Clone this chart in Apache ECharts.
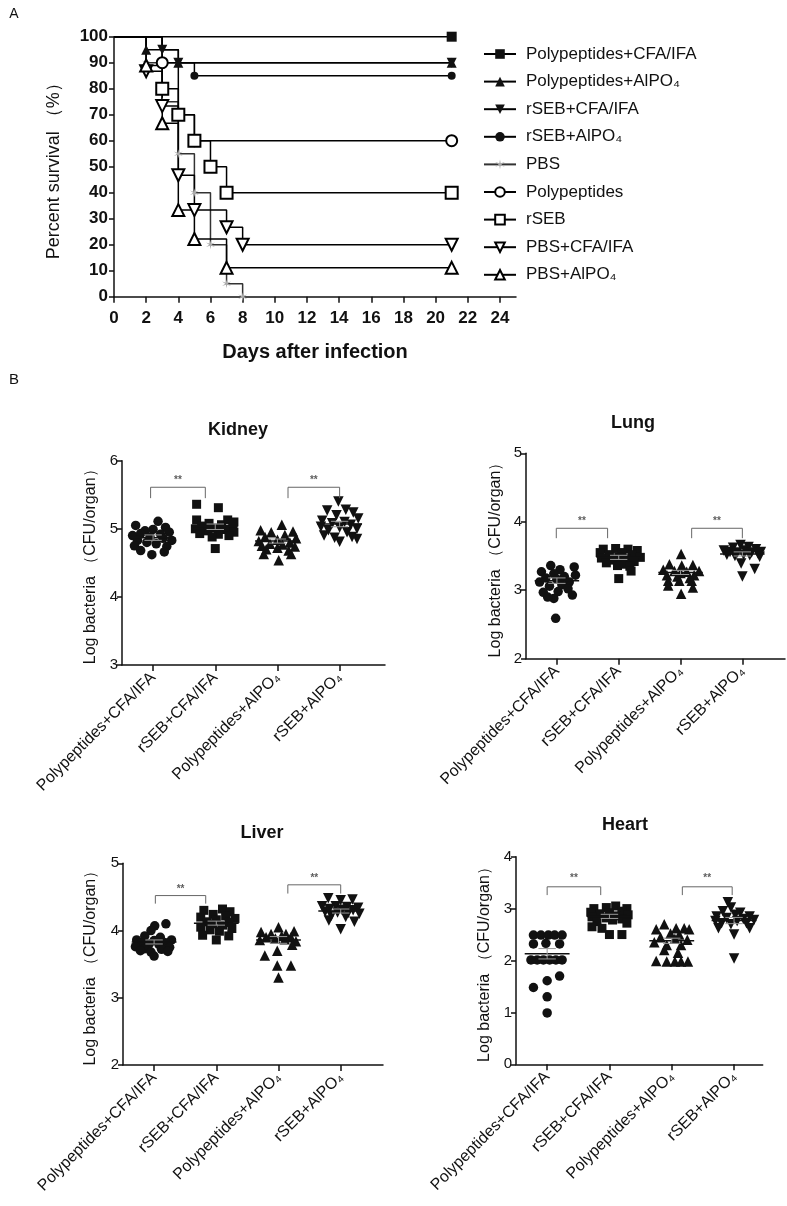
<!DOCTYPE html>
<html><head><meta charset="utf-8">
<script src="https://cdn.jsdelivr.net/npm/echarts@6/dist/echarts.min.js"></script>
<style>html,body{margin:0;padding:0;background:#fff}#c{width:787px;height:1206px}</style>
</head><body><div id="c"></div>
<script>
const FONT = 'Arial, "Liberation Sans", Helvetica, sans-serif';

// ---------- Panel A: survival ----------
const survNames = ['Polypeptides+CFA/IFA','Polypeptides+AlPO₄','rSEB+CFA/IFA','rSEB+AlPO₄','PBS','Polypeptides','rSEB','PBS+CFA/IFA','PBS+AlPO₄'];
const days_PolyCFA = [0,21];               const pct_PolyCFA = [100,100];
const days_PolyAl  = [0,2,4,21];           const pct_PolyAl  = [100,95,90,90];
const days_rSEBCFA = [0,3,4,21];           const pct_rSEBCFA = [100,95,90,90];
const days_rSEBAl  = [0,3,5,21];           const pct_rSEBAl  = [100,90,85,85];
const days_PBS     = [0,2,3,4,5,6,7,8];    const pct_PBS     = [100,90,75,55,40,20,5,0];
const days_Poly    = [0,3,4,5,21];         const pct_Poly    = [100,90,70,60,60];
const days_rSEB    = [0,3,4,5,6,7,21];     const pct_rSEB    = [100,80,70,60,50,40,40];
const days_PBSCFA  = [0,2,3,4,5,7,8,21];   const pct_PBSCFA  = [100,86.7,73.3,46.7,33.3,26.7,20,20];
const days_PBSAl   = [0,2,3,4,5,7,21];     const pct_PBSAl   = [100,88.9,66.7,33.3,22.2,11.1,11.1];
const xTicksA = [0,2,4,6,8,10,12,14,16,18,20,22,24];

// ---------- Panel B: organ bacterial loads ----------
const organCategories = ['Polypeptides+CFA/IFA','rSEB+CFA/IFA','Polypeptides+AlPO₄','rSEB+AlPO₄'];
const catTicks = [1,2,3,4];
// each point: [horizontal jitter in category units, log CFU]
const kidney_PolyCFA = [[-0.28,5.05],[0.08,5.11],[0.20,5.02],[0.0,4.99],[-0.13,4.97],[-0.33,4.90],[-0.20,4.93],[0.26,4.95],[0.12,4.92],[-0.05,4.88],[0.16,4.86],[-0.25,4.83],[0.30,4.83],[-0.10,4.80],[0.05,4.78],[-0.30,4.75],[0.22,4.74],[-0.20,4.68],[0.18,4.66],[-0.02,4.62]];
const kidney_rSEBCFA = [[-0.30,5.36],[0.05,5.31],[-0.30,5.13],[0.20,5.13],[0.30,5.10],[-0.10,5.08],[0.10,5.06],[-0.22,5.04],[0.28,5.02],[0.0,5.01],[-0.32,5.00],[0.15,4.99],[-0.12,4.97],[0.30,4.95],[-0.25,4.93],[0.05,4.92],[0.22,4.90],[-0.05,4.88],[0.00,4.71]];
const kidney_PolyAl = [[0.07,5.06],[-0.27,4.98],[0.25,4.96],[-0.10,4.95],[0.12,4.91],[-0.20,4.88],[0.30,4.86],[0.00,4.84],[-0.30,4.82],[0.20,4.80],[-0.12,4.78],[0.08,4.77],[-0.25,4.75],[0.28,4.74],[0.00,4.72],[-0.18,4.70],[0.18,4.68],[-0.22,4.63],[0.22,4.63],[0.02,4.54]];
const kidney_rSEBAl = [[-0.02,5.40],[-0.20,5.27],[0.10,5.28],[0.22,5.24],[-0.05,5.20],[0.30,5.15],[-0.28,5.12],[0.08,5.10],[-0.12,5.08],[0.18,5.06],[-0.30,5.03],[0.00,5.02],[0.28,5.00],[-0.18,4.98],[0.12,4.95],[-0.25,4.90],[0.20,4.88],[-0.08,4.87],[0.28,4.85],[0.00,4.81]];
const kidney_means = [4.87,5.03,4.82,5.07];
const kidney_sems  = [0.04,0.04,0.03,0.04];

const lung_PolyCFA = [[-0.10,3.36],[0.28,3.34],[-0.25,3.27],[0.05,3.30],[0.30,3.22],[-0.05,3.24],[0.12,3.20],[-0.18,3.18],[0.0,3.16],[0.20,3.12],[-0.28,3.12],[0.08,3.08],[-0.12,3.06],[0.18,3.02],[-0.22,2.97],[0.25,2.93],[0.02,2.98],[-0.05,2.88],[-0.15,2.90],[-0.02,2.59]];
const lung_rSEBCFA = [[-0.25,3.60],[-0.05,3.61],[0.15,3.60],[0.30,3.58],[-0.30,3.55],[0.05,3.55],[-0.15,3.52],[0.22,3.52],[0.35,3.48],[-0.28,3.47],[0.0,3.48],[0.12,3.46],[-0.10,3.44],[0.25,3.42],[-0.20,3.40],[0.05,3.38],[-0.02,3.36],[0.18,3.35],[0.20,3.28],[0.0,3.17]];
const lung_PolyAl = [[0.01,3.53],[-0.18,3.38],[0.02,3.36],[0.20,3.37],[-0.28,3.30],[0.30,3.28],[-0.10,3.28],[0.10,3.27],[0.00,3.25],[-0.22,3.22],[0.22,3.22],[-0.05,3.20],[0.15,3.18],[-0.20,3.14],[-0.02,3.14],[0.18,3.14],[-0.20,3.07],[0.20,3.04],[0.01,2.95]];
const lung_rSEBAl = [[-0.03,3.66],[0.10,3.63],[-0.15,3.62],[0.22,3.60],[-0.30,3.58],[0.05,3.58],[0.30,3.56],[-0.20,3.56],[0.15,3.55],[-0.08,3.55],[0.25,3.54],[-0.25,3.52],[0.02,3.52],[0.12,3.51],[-0.12,3.50],[0.28,3.49],[-0.02,3.39],[0.20,3.31],[0.0,3.20]];
const lung_means = [3.14,3.48,3.26,3.53];
const lung_sems  = [0.04,0.03,0.03,0.03];

const liver_PolyCFA = [[0.01,4.07],[0.19,4.10],[-0.05,4.00],[-0.15,3.92],[0.10,3.90],[-0.28,3.86],[0.28,3.86],[0.0,3.85],[-0.20,3.82],[0.18,3.82],[-0.08,3.80],[0.08,3.79],[-0.30,3.76],[0.25,3.75],[-0.15,3.73],[0.12,3.72],[-0.22,3.70],[0.22,3.69],[-0.05,3.68],[0.0,3.62]];
const liver_rSEBCFA = [[-0.20,4.30],[0.10,4.32],[0.22,4.28],[-0.05,4.24],[0.15,4.22],[-0.25,4.20],[0.30,4.18],[0.0,4.16],[-0.15,4.13],[0.20,4.12],[-0.05,4.10],[0.10,4.08],[-0.25,4.05],[0.25,4.03],[-0.10,4.01],[0.05,3.99],[-0.22,3.93],[0.20,3.92],[0.0,3.86]];
const liver_PolyAl = [[0.00,4.05],[-0.28,3.98],[0.25,3.99],[-0.12,3.95],[0.12,3.95],[0.05,3.92],[-0.20,3.90],[0.20,3.90],[-0.05,3.88],[0.10,3.87],[-0.30,3.86],[0.28,3.84],[0.22,3.79],[-0.22,3.63],[-0.02,3.70],[-0.02,3.48],[0.20,3.48],[0.00,3.30]];
const liver_rSEBAl = [[-0.20,4.48],[0.00,4.45],[0.19,4.46],[-0.30,4.36],[-0.08,4.36],[0.10,4.35],[0.28,4.34],[-0.18,4.32],[0.02,4.31],[0.20,4.30],[-0.25,4.28],[-0.05,4.27],[0.12,4.26],[0.30,4.25],[-0.15,4.22],[0.08,4.20],[-0.19,4.15],[0.22,4.13],[0.00,4.02]];
const liver_means = [3.83,4.11,3.86,4.29];
const liver_sems  = [0.03,0.03,0.05,0.03];

const heart_PolyCFA = [[-0.22,2.49],[-0.10,2.49],[0.02,2.49],[0.12,2.49],[0.24,2.49],[-0.22,2.32],[-0.02,2.33],[0.20,2.32],[-0.26,2.01],[-0.16,2.01],[-0.06,2.01],[0.04,2.01],[0.14,2.01],[0.24,2.01],[0.20,1.70],[0.00,1.61],[-0.22,1.48],[0.00,1.30],[0.00,0.99]];
const heart_rSEBCFA = [[-0.25,3.00],[-0.05,3.02],[0.10,3.05],[0.28,3.00],[-0.30,2.93],[0.20,2.95],[0.0,2.92],[-0.15,2.90],[0.30,2.88],[0.10,2.86],[-0.28,2.84],[-0.05,2.82],[0.20,2.80],[0.05,2.78],[-0.20,2.75],[0.28,2.72],[-0.28,2.65],[-0.12,2.62],[0.0,2.50],[0.20,2.50]];
const heart_PolyAl = [[-0.12,2.70],[-0.25,2.60],[0.07,2.62],[0.20,2.62],[0.28,2.60],[-0.02,2.52],[0.12,2.50],[-0.18,2.45],[0.05,2.42],[0.25,2.40],[-0.28,2.35],[-0.08,2.30],[0.15,2.30],[-0.12,2.20],[0.10,2.15],[-0.25,1.99],[-0.08,1.98],[0.05,1.98],[0.15,1.98],[0.26,1.98]];
const heart_rSEBAl = [[-0.10,3.12],[-0.05,3.02],[-0.18,2.95],[0.10,2.92],[0.02,2.88],[-0.28,2.85],[0.25,2.85],[-0.12,2.82],[0.15,2.80],[0.32,2.78],[-0.30,2.76],[0.05,2.76],[-0.20,2.72],[0.20,2.72],[-0.05,2.70],[-0.25,2.62],[0.25,2.62],[0.00,2.50],[0.00,2.04]];
const heart_means = [2.13,2.85,2.38,2.77];
const heart_sems  = [0.10,0.04,0.05,0.06];

// significance brackets: [x1, x2, top, legBottom, starsY]
const kidney_brackets = [[0.96,1.84,5.61,5.45,5.72],[3.17,4.0,5.61,5.45,5.72]];
const lung_brackets   = [[0.99,1.82,3.905,3.76,4.01],[3.18,4.0,3.905,3.76,4.01]];
const liver_brackets  = [[1.02,1.83,4.52,4.40,4.62],[3.15,4.0,4.68,4.55,4.78]];
const heart_brackets  = [[1.0,1.86,3.42,3.26,3.58],[3.17,3.97,3.42,3.26,3.58]];

// ---------- symbols ----------
const TRI_UP = 'path://M5,0 L10,9 L0,9 Z';
const TRI_DN = 'path://M0,0 L10,0 L5,9 Z';
const STAR = 'path://M10 0 L11.25 7.83 L18.66 5 L12.5 10 L18.66 15 L11.25 12.17 L10 20 L8.75 12.17 L1.34 15 L7.5 10 L1.34 5 L8.75 7.83 Z';

function stepData(days, pct){
  return days.map((d,i)=> i===0 ? {value:[d,pct[i]], symbol:'none'} : [d,pct[i]]);
}
const filled = {color:'#111', borderColor:'#111', borderWidth:0};
const open = {color:'#fff', borderColor:'#000', borderWidth:2};
function survSeries(name, days, pct, symbol, size, item, lineColor){
  return {type:'line', name, xAxisIndex:0, yAxisIndex:0, step:'end', data:stepData(days,pct),
    symbol, symbolSize:size, showAllSymbol:true, itemStyle:item,
    lineStyle:{color:lineColor||'#000', width:1.5}, emphasis:{disabled:true}, z:3};
}

const series = [
  survSeries(survNames[0], days_PolyCFA, pct_PolyCFA, 'rect', 10, filled),
  survSeries(survNames[1], days_PolyAl, pct_PolyAl, TRI_UP, 10, filled),
  survSeries(survNames[2], days_rSEBCFA, pct_rSEBCFA, TRI_DN, 10, filled),
  survSeries(survNames[3], days_rSEBAl, pct_rSEBAl, 'circle', 8, filled),
  survSeries(survNames[4], days_PBS, pct_PBS, STAR, 9, {color:'#aaa'}, '#333'),
  survSeries(survNames[5], days_Poly, pct_Poly, 'circle', 11, open),
  survSeries(survNames[6], days_rSEB, pct_rSEB, 'rect', 12, open),
  survSeries(survNames[7], days_PBSCFA, pct_PBSCFA, TRI_DN, 12, open),
  survSeries(survNames[8], days_PBSAl, pct_PBSAl, TRI_UP, 12, open)
];

const organs = [
  {groups:[kidney_PolyCFA,kidney_rSEBCFA,kidney_PolyAl,kidney_rSEBAl], means:kidney_means, sems:kidney_sems, br:kidney_brackets},
  {groups:[lung_PolyCFA,lung_rSEBCFA,lung_PolyAl,lung_rSEBAl], means:lung_means, sems:lung_sems, br:lung_brackets},
  {groups:[liver_PolyCFA,liver_rSEBCFA,liver_PolyAl,liver_rSEBAl], means:liver_means, sems:liver_sems, br:liver_brackets},
  {groups:[heart_PolyCFA,heart_rSEBCFA,heart_PolyAl,heart_rSEBAl], means:heart_means, sems:heart_sems, br:heart_brackets}
];
const groupSymbols = [['circle',9.5],['rect',9],[TRI_UP,10.5],[TRI_DN,10.5]];

function meanRender(params, api){
  const x = api.value(0), m = api.value(1), s = api.value(2);
  const L = api.coord([x-0.36,m]), R = api.coord([x+0.36,m]);
  const T = api.coord([x,m+s]), B = api.coord([x,m-s]);
  const cw = 0.14;
  const TL = api.coord([x-cw,m+s]), TR = api.coord([x+cw,m+s]);
  const BL = api.coord([x-cw,m-s]), BR = api.coord([x+cw,m-s]);
  const g = {stroke:'#999', lineWidth:1};
  return {type:'group', children:[
    {type:'line', shape:{x1:L[0],y1:L[1],x2:R[0],y2:R[1]}, style:{stroke:'#111', lineWidth:1.5}},
    {type:'line', shape:{x1:T[0],y1:T[1],x2:B[0],y2:B[1]}, style:g},
    {type:'line', shape:{x1:TL[0],y1:TL[1],x2:TR[0],y2:TR[1]}, style:g},
    {type:'line', shape:{x1:BL[0],y1:BL[1],x2:BR[0],y2:BR[1]}, style:g}
  ]};
}

organs.forEach((o, k)=>{
  const ax = k+1;
  o.groups.forEach((pts, gi)=>{
    series.push({type:'scatter', xAxisIndex:ax, yAxisIndex:ax, symbol:groupSymbols[gi][0], symbolSize:groupSymbols[gi][1],
      itemStyle:{color:'#111', opacity:1}, data:pts.map(p=>[gi+1+p[0], p[1]]), emphasis:{disabled:true}, z:2});
  });
  series.push({type:'custom', xAxisIndex:ax, yAxisIndex:ax, renderItem:meanRender, z:4, silent:true,
    data:o.means.map((m,i)=>[i+1, m, o.sems[i]])});
  o.br.forEach(b=>{
    series.push({type:'line', xAxisIndex:ax, yAxisIndex:ax, symbol:'none', silent:true,
      lineStyle:{color:'#666', width:1}, data:[[b[0],b[3]],[b[0],b[2]],[b[1],b[2]],[b[1],b[3]]]});
    series.push({type:'scatter', xAxisIndex:ax, yAxisIndex:ax, symbolSize:1, silent:true,
      itemStyle:{color:'rgba(0,0,0,0)'}, data:[[(b[0]+b[1])/2, b[4]]],
      label:{show:true, position:'inside', formatter:'**', fontSize:10, fontWeight:'bold', color:'#333', fontFamily:FONT}});
  });
});

const axisLineStyle = {color:'#111', width:1.5};
const grids = [
  {left:114, top:36.7, width:402, height:260},
  {left:122, top:460.7, width:263, height:204.3},
  {left:526, top:453.3, width:259, height:205.4},
  {left:123, top:863.3, width:260, height:201.7},
  {left:516, top:856.7, width:246.7, height:207.6}
];
const xMax = [25, 4.73, 4.69, 4.68, 4.46];
const yRange = [[0,100,10],[3,6,1],[2,5,1],[2,5,1],[0,4,1]];
const yNameGap = [0, 23, 22, 24, 23];
const xAxes = [{
  type:'value', gridIndex:0, min:0, max:25, splitLine:{show:false},
  axisLine:{onZero:false, lineStyle:axisLineStyle},
  axisTick:{customValues:xTicksA, length:6, lineStyle:{width:1.5}},
  axisLabel:{customValues:xTicksA, fontSize:17, fontWeight:'bold', color:'#111', fontFamily:FONT, margin:13},
  name:'Days after infection', nameLocation:'middle', nameGap:46,
  nameTextStyle:{fontSize:20, fontWeight:'bold', color:'#111', fontFamily:FONT}
}];
const yAxes = [{
  type:'value', gridIndex:0, min:0, max:100, interval:10, splitLine:{show:false},
  axisLine:{show:true, lineStyle:axisLineStyle},
  axisTick:{show:true, length:5, lineStyle:{width:1.5}},
  axisLabel:{fontSize:17, fontWeight:'bold', color:'#111', fontFamily:FONT, margin:6},
  name:'Percent survival （%）', nameLocation:'middle', nameGap:51,
  nameTextStyle:{fontSize:18, color:'#111', fontFamily:FONT}
}];
for(let k=1;k<5;k++){
  xAxes.push({type:'value', gridIndex:k, min:0.5, max:xMax[k], splitLine:{show:false},
    axisLine:{onZero:false, lineStyle:axisLineStyle},
    axisTick:{customValues:catTicks, length:6, lineStyle:{width:1.5}},
    axisLabel:{customValues:catTicks, rotate:45, fontSize:16, color:'#111', fontFamily:FONT, margin:10,
      formatter:v=>organCategories[Math.round(v)-1]}});
  yAxes.push({type:'value', gridIndex:k, min:yRange[k][0], max:yRange[k][1], interval:1, splitLine:{show:false},
    axisLine:{show:true, lineStyle:axisLineStyle},
    axisTick:{show:true, length:5, lineStyle:{width:1.5}},
    axisLabel:{fontSize:15, color:'#111', fontFamily:FONT, margin:4},
    name:'Log bacteria （CFU/organ）', nameLocation:'middle', nameGap:yNameGap[k],
    nameTextStyle:{fontSize:16, color:'#111', fontFamily:FONT}});
}

function txt(x,y,s,size,weight){
  return {type:'text', x, y, style:{text:s, fontSize:size, fontWeight:weight||'normal', fill:'#111', fontFamily:FONT, align:'center', verticalAlign:'middle'}};
}

const chart = echarts.init(document.getElementById('c'), null, {renderer:'canvas'});
chart.setOption({
  animation:false,
  backgroundColor:'#fff',
  grid:grids, xAxis:xAxes, yAxis:yAxes,
  legend:{data:survNames, orient:'vertical', left:478, top:40, itemWidth:32, itemHeight:12, itemGap:9.6,
    textStyle:{fontSize:17, color:'#111', fontFamily:FONT, lineHeight:18, padding:[0,0,0,5]}, selectedMode:false},
  graphic:[
    txt(14,14,'A',14), txt(14,380,'B',15),
    txt(238,430,'Kidney',18,'bold'), txt(633,423,'Lung',18,'bold'),
    txt(262,833,'Liver',18,'bold'), txt(625,825,'Heart',18,'bold')
  ],
  series
});
</script></body></html>
